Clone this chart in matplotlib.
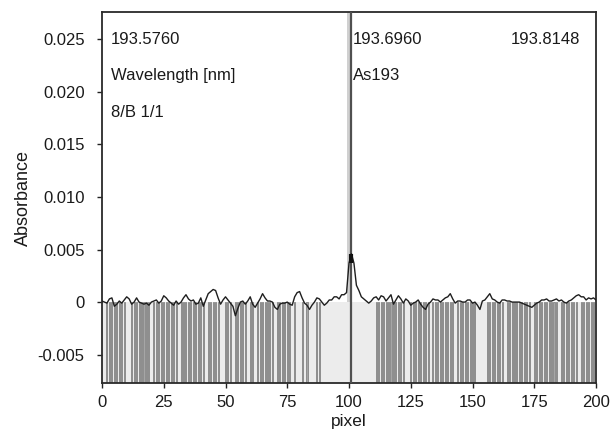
import matplotlib
matplotlib.use("Agg")
import matplotlib.pyplot as plt
import numpy as np

plt.rcParams['font.family'] = ['Liberation Sans', 'DejaVu Sans']

# ---- data ----
pixels = list(range(0, 201))
absorbance = [
    0.0001, 0.0000, -0.0001, 0.0003, 0.0004, -0.0004, -0.0002, 0.0001, -0.0001, 0.0002,
    0.0005, 0.0003, -0.0002, 0.0000, 0.0004, 0.0000, -0.0001, -0.0002, -0.0001, -0.0003,
    0.0000, 0.0001, 0.0002, -0.0001, 0.0001, 0.0006, 0.0004, 0.0001, -0.0001, -0.0003,
    0.0001, -0.0002, 0.0000, 0.0004, 0.0007, 0.0003, 0.0001, 0.0002, -0.0002, -0.0001,
    0.0004, -0.0004, 0.0002, 0.0008, 0.0010, 0.0012, 0.0011, 0.0004, -0.0002, 0.0002,
    0.0005, 0.0002, -0.0001, -0.0004, -0.0013, -0.0006, 0.0000, 0.0001, -0.0002, 0.0001,
    0.0005, -0.0002, -0.0005, -0.0001, 0.0003, 0.0008, 0.0004, 0.0001, 0.0001, 0.0000,
    -0.0005, -0.0007, -0.0002, -0.0001, -0.0001, 0.0000, -0.0002, -0.0003, 0.0005, 0.0009,
    0.0010, 0.0004, -0.0001, -0.0003, -0.0007, -0.0003, 0.0000, 0.0004, 0.0003, 0.0000,
    -0.0003, -0.0001, 0.0002, 0.0002, 0.0005, 0.0005, 0.0003, 0.0007, 0.0007, 0.0009,
    0.0037, 0.0046, 0.0037, 0.0016, 0.0011, 0.0005, 0.0003, 0.0001, -0.0001, 0.0001,
    0.0004, 0.0005, 0.0002, 0.0006, 0.0005, 0.0001, 0.0004, 0.0007, -0.0002, 0.0002,
    0.0006, 0.0003, -0.0001, 0.0003, 0.0001, -0.0003, -0.0001, 0.0000, 0.0002, -0.0002,
    -0.0005, -0.0007, -0.0002, 0.0000, 0.0003, 0.0002, 0.0002, 0.0000, 0.0002, 0.0004,
    0.0005, 0.0008, 0.0003, -0.0001, 0.0001, 0.0001, 0.0000, 0.0000, 0.0002, 0.0002,
    -0.0001, 0.0000, -0.0003, -0.0007, 0.0001, 0.0002, 0.0005, 0.0008, 0.0003, 0.0002,
    0.0000, -0.0001, 0.0002, 0.0002, 0.0001, 0.0001, 0.0000, 0.0000, 0.0000, 0.0000,
    -0.0001, -0.0002, -0.0003, -0.0004, -0.0005, -0.0003, -0.0001, 0.0000, 0.0002, 0.0002,
    0.0003, 0.0001, 0.0001, 0.0002, 0.0003, 0.0001, 0.0002, 0.0000, -0.0001, 0.0001,
    0.0002, 0.0004, 0.0006, 0.0007, 0.0005, 0.0005, 0.0002, 0.0004, 0.0003, 0.0004,
    0.0002,
]
missing_bars = [1, 10, 11, 20, 31, 42, 48, 49, 53, 59, 62, 70, 77, 79, 80, 82, 84, 85, 86,
                123, 124, 133, 143, 152, 153, 154, 155, 163, 174, 185, 193]
bar_pixels = [p for p in range(2, 89) if p not in missing_bars] + \
             [p for p in range(111, 200) if p not in missing_bars]
peak_pixel = 101
peak_band = (99.3, 100.3)
peak_mark = (0.0037, 0.0046)

yticks = [-0.005, 0, 0.005, 0.010, 0.015, 0.020, 0.025]
ytick_labels = ['-0.005', '0', '0.005', '0.010', '0.015', '0.020', '0.025']
xticks = [0, 25, 50, 75, 100, 125, 150, 175, 200]
xtick_labels = ['0', '25', '50', '75', '100', '125', '150', '175', '200']

annotations = [
    (3.5, 0.0250, '193.5760', 'left'),
    (3.5, 0.0216, 'Wavelength [nm]', 'left'),
    (3.5, 0.0180, '8/B 1/1', 'left'),
    (101.6, 0.0250, '193.6960', 'left'),
    (101.6, 0.0216, 'As193', 'left'),
    (193.5, 0.0250, '193.8148', 'right'),
]

ymin, ymax = -0.0077, 0.0276
xmin, xmax = 0, 200

# ---- figure ----
fig = plt.figure(figsize=(6.11, 4.32), dpi=100)
ax = fig.add_axes([102/611, 1-383/432, (596-102)/611, (383-12)/432])
ax.set_xlim(xmin, xmax)
ax.set_ylim(ymin, ymax)

# light fill below zero
ax.axhspan(ymin, 0, color='#ececec', zorder=0, lw=0)
# peak band
ax.axvspan(peak_band[0], peak_band[1], ymin=(0 - ymin)/(ymax - ymin), ymax=1,
           color='#d0d0d0', lw=0, zorder=1)

# bars
ax.bar(bar_pixels, [0 - ymin]*len(bar_pixels), bottom=ymin, width=0.42,
       color='#a6a6a6', edgecolor='#777777', linewidth=0.5, zorder=2)

# peak line
ax.axvline(peak_pixel, color='#505050', lw=1.6, zorder=3)

# spectrum
ax.plot(pixels, absorbance, color='#1e1e1e', lw=1.0, zorder=4)
ax.plot([peak_pixel, peak_pixel], peak_mark, color='#111111', lw=3.0,
        solid_capstyle='butt', zorder=5)

for x, y, s, ha in annotations:
    ax.text(x, y, s, ha=ha, va='center', fontsize=12, color='#1a1a1a', zorder=6)

ax.set_xticks(xticks)
ax.set_xticklabels(xtick_labels)
ax.set_yticks(yticks)
ax.set_yticklabels(ytick_labels)
ax.tick_params(axis='both', direction='out', length=3.5, width=1.0, color='#222222',
               labelsize=12, labelcolor='#1a1a1a')
ax.tick_params(axis='y', pad=9)
ax.tick_params(axis='x', pad=5)
for sp in ax.spines.values():
    sp.set_color('#2a2a2a')
    sp.set_linewidth(1.3)

ax.set_xlabel('pixel', fontsize=12.5, color='#1a1a1a', labelpad=3)
ax.set_ylabel('Absorbance', fontsize=13, color='#1a1a1a', labelpad=4)

fig.savefig('out.png', dpi=100, facecolor='white')
